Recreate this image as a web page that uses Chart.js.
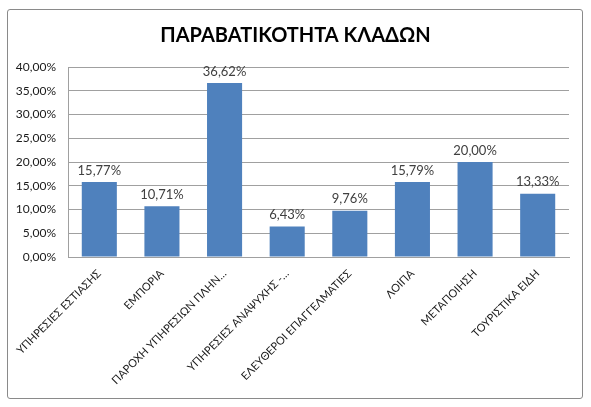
<!DOCTYPE html>
<html>
<head>
<meta charset="utf-8">
<script src="https://cdn.jsdelivr.net/npm/chart.js@4.4.1/dist/chart.umd.min.js"></script>
<style>
  html, body { margin: 0; padding: 0; background: #fff; }
  #wrap { position: relative; width: 591px; height: 407px; }
  #frame {
    position: absolute; left: 7px; top: 9px; width: 574px; height: 388px;
    border: 1px solid #8a8a8a; border-radius: 3px; pointer-events: none;
  }
</style>
</head>
<body>
<div id="wrap">
  <canvas id="chart" width="591" height="407"></canvas>
  <div id="frame"></div>
</div>
<script>
// Chart data
const chartTitle = "ΠΑΡΑΒΑΤΙΚΟΤΗΤΑ ΚΛΑΔΩΝ";
const categories = [
  "ΥΠΗΡΕΣΙΕΣ ΕΣΤΙΑΣΗΣ",
  "ΕΜΠΟΡΙΑ",
  "ΠΑΡΟΧΗ ΥΠΗΡΕΣΙΩΝ ΠΛΗΝ…",
  "ΥΠΗΡΕΣΙΕΣ ΑΝΑΨΥΧΗΣ -…",
  "ΕΛΕΥΘΕΡΟΙ ΕΠΑΓΓΕΛΜΑΤΙΕΣ",
  "ΛΟΙΠΑ",
  "ΜΕΤΑΠΟΙΗΣΗ",
  "ΤΟΥΡΙΣΤΙΚΑ ΕΙΔΗ",
];
const rates = [15.77, 10.71, 36.62, 6.43, 9.76, 15.79, 20.0, 13.33]; // percent
const yTicks = [0, 5, 10, 15, 20, 25, 30, 35, 40];

const fontFamily = "Lato, 'Open Sans', sans-serif";

// format as 12,34%
function pct(v) {
  return v.toFixed(2).replace(".", ",") + "%";
}

// title centred on the whole frame, not on the plot
const frameTitle = {
  id: "frameTitle",
  afterDraw(chart) {
    const ctx = chart.ctx;
    ctx.save();
    ctx.font = "bold 20px " + fontFamily;
    ctx.fillStyle = "#000";
    ctx.textAlign = "center";
    ctx.textBaseline = "middle";
    ctx.fillText(chartTitle, chart.width / 2, 36);
    ctx.restore();
  },
};

// draws the value above each bar
const valueLabels = {
  id: "valueLabels",
  afterDatasetsDraw(chart) {
    const ctx = chart.ctx;
    const meta = chart.getDatasetMeta(0);
    ctx.save();
    ctx.font = "13px " + fontFamily;
    ctx.fillStyle = "#404040";
    ctx.textAlign = "center";
    ctx.textBaseline = "bottom";
    meta.data.forEach((bar, i) => {
      ctx.fillText(pct(rates[i]), bar.x, bar.y - 5);
    });
    ctx.restore();
  },
};

new Chart(document.getElementById("chart"), {
  type: "bar",
  data: {
    labels: categories,
    datasets: [
      {
        data: rates,
        backgroundColor: "#4f81bd",
        borderWidth: 0,
        categoryPercentage: 0.56,
        barPercentage: 1,
      },
    ],
  },
  options: {
    responsive: false,
    animation: false,
    layout: { padding: { left: 0, right: 22, top: 67, bottom: 0 } },
    plugins: {
      legend: { display: false },
      tooltip: { enabled: false },
      title: { display: false },
    },
    scales: {
      y: {
        min: 0,
        max: 40,
        afterBuildTicks(axis) {
          axis.ticks = yTicks.map((v) => ({ value: v }));
        },
        afterFit(axis) {
          axis.width = 68;
        },
        ticks: {
          color: "#1a1a1a",
          font: { family: fontFamily, size: 12 },
          padding: 12,
          callback: (v) => pct(v),
        },
        grid: { color: "#a0a0a0", drawTicks: false },
        border: { color: "#a0a0a0" },
      },
      x: {
        afterFit(axis) {
          axis.height = 150;
        },
        ticks: {
          color: "#1a1a1a",
          font: { family: fontFamily, size: 11 },
          maxRotation: 45,
          minRotation: 45,
          autoSkip: false,
          padding: 2,
        },
        grid: { display: false },
        border: { color: "#a0a0a0" },
      },
    },
  },
  plugins: [valueLabels, frameTitle],
});
</script>
</body>
</html>
